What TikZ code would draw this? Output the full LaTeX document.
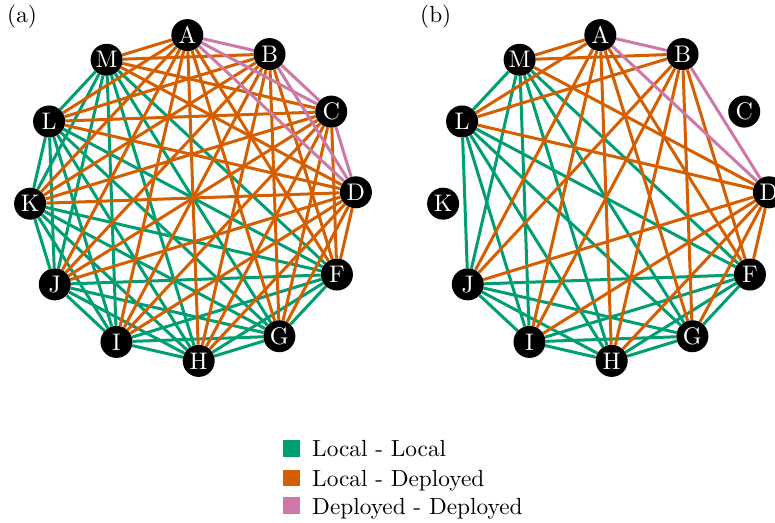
\documentclass[tikz,border=0pt]{standalone}
\usepackage{fontspec}
\setmainfont{lmroman10-regular.otf}
\usetikzlibrary{backgrounds,calc}
\definecolor{cLL}{HTML}{009E73}
\definecolor{cLD}{HTML}{D55E00}
\definecolor{cDD}{HTML}{CC79A7}
\tikzset{
  vertex/.style={circle,fill=black,minimum size=32pt,inner sep=0pt,text=white,font=\fontsize{24}{28}\selectfont},
  edge/.style={line width=3pt},
  ll/.style={edge,draw=cLL},
  ld/.style={edge,draw=cLD},
  dd/.style={edge,draw=cDD},
  lbl/.style={anchor=base west,inner sep=0pt,font=\fontsize{23.3}{28}\selectfont},
  keybox/.style={inner sep=0pt,minimum size=16.7pt,anchor=south west}
}
\newcommand\pairsdraw[3]{%
  \foreach \x [count=\i] in {#3} {\foreach \y [count=\j] in {#3} {\ifnum\j>\i \draw[#1] (#2\x) -- (#2\y);\fi}}}
\newcommand\crossdraw[4]{%
  \foreach \x in {#3} {\foreach \y in {#4} {\draw[#1] (#2\x) -- (#2\y);}}}
\begin{document}
\begin{tikzpicture}[x=1pt,y=1pt]
\useasboundingbox (0,0) rectangle (775,522);
\clip (0,0) rectangle (775,522);
% panel (a)
\foreach \n/\a in {A/92,B/62,C/32,D/2,F/-28,G/-58,H/-88,I/-118,J/-148,K/-178,L/152,M/122}
  \node[vertex] (a\n) at ($(193,324)+(\a:163pt)$) {\n};
% panel (b)
\foreach \n/\a in {A/92,B/62,C/32,D/2,F/-28,G/-58,H/-88,I/-118,J/-148,K/-178,L/152,M/122}
  \node[vertex] (b\n) at ($(606,324)+(\a:163pt)$) {\n};
\begin{pgfonlayer}{background}
  \pairsdraw{ll}{a}{F,G,H,I,J,K,L,M}
  \crossdraw{ld}{a}{A,B,C,D}{F,G,H,I,J,K,L,M}
  \pairsdraw{dd}{a}{A,B,C,D}
  \pairsdraw{ll}{b}{F,G,H,I,J,L,M}
  \crossdraw{ld}{b}{A,B,D}{F,G,H,I,J,L,M}
  \pairsdraw{dd}{b}{A,B,D}
\end{pgfonlayer}
% panel labels
\node[lbl] (pa) at (7,499.5) {(a)};
\node[lbl] (pb) at (420,499.5) {(b)};
% legend
\node[keybox,fill=cLL] (k1) at (283,65.3) {};
\node[lbl] (t1) at (312,65.3) {Local - Local};
\node[keybox,fill=cLD] (k2) at (283,35.5) {};
\node[lbl] (t2) at (312,35.5) {Local - Deployed};
\node[keybox,fill=cDD] (k3) at (283,7.7) {};
\node[lbl] (t3) at (312,7.7) {Deployed - Deployed};
\end{tikzpicture}
\end{document}
